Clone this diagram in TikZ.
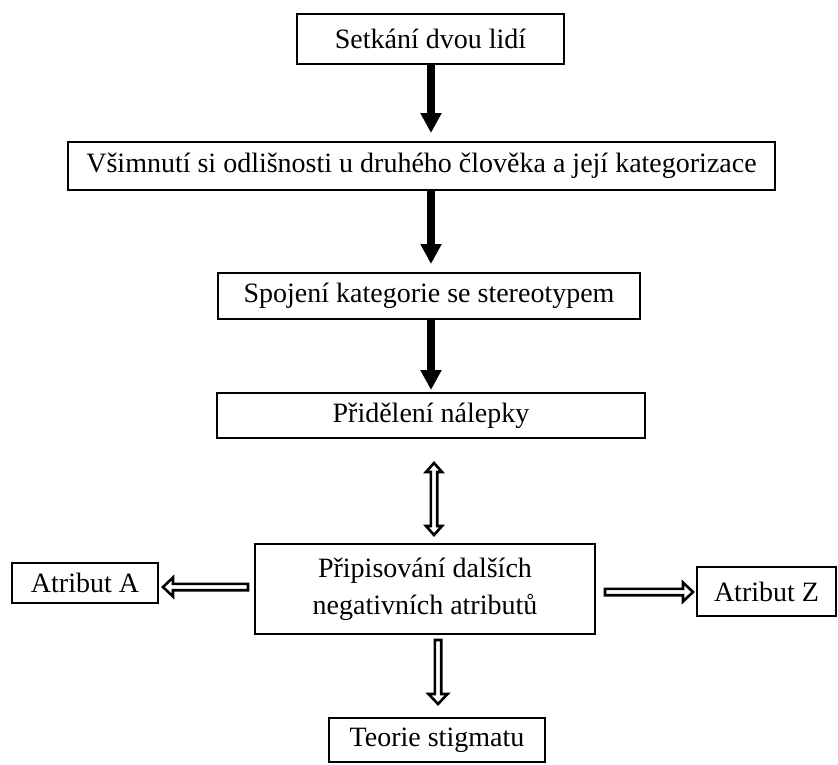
\documentclass[tikz,border=0pt]{standalone}
\usepackage{fontspec}
\setmainfont{Liberation Serif}
\usetikzlibrary{arrows.meta,calc}
\newcommand\outarrow[2]{%
  \draw[hollow] let \p1=($(#2)-(#1)$), \n1={veclen(\x1,\y1)}, \n2={atan2(\y1,\x1)} in
   [shift={(#1)},rotate=\n2] (0,-3.2) -- (\n1-10,-3.2) -- (\n1-10,-9.5) -- (\n1,0) -- (\n1-10,9.5) -- (\n1-10,3.2) -- (0,3.2) -- cycle;}
\newcommand\outarrowboth[2]{%
  \draw[hollow] let \p1=($(#2)-(#1)$), \n1={veclen(\x1,\y1)}, \n2={atan2(\y1,\x1)} in
   [shift={(#1)},rotate=\n2] (0,0) -- (9,-8) -- (9,-3.2) -- (\n1-9,-3.2) -- (\n1-9,-8) -- (\n1,0) -- (\n1-9,8) -- (\n1-9,3.2) -- (9,3.2) -- (9,8) -- cycle;}
\begin{document}
\begin{tikzpicture}[x=1pt,y=-1pt,
  box/.style={draw,line width=1.2pt,font=\fontsize{28}{37}\selectfont,inner sep=0pt,align=center},
  solidarrow/.style={line width=8pt,-{Triangle[length=20pt,width=20pt]}},
  hollow/.style={line width=2.6pt,line join=miter,fill=white}
]
\useasboundingbox (0,0) rectangle (838,764);
\node[box,minimum width=267pt,minimum height=50pt] (b1) at (430.5,39) {Setkání dvou lidí};
\node[box,minimum width=707pt,minimum height=48pt] (b2) at (421.5,166) {Všimnutí si odlišnosti u druhého člověka a její kategorizace};
\node[box,minimum width=422pt,minimum height=46pt] (b3) at (429,296) {Spojení kategorie se stereotypem};
\node[box,minimum width=428pt,minimum height=45pt] (b4) at (431,415.5) {Přidělení nálepky};
\node[box,minimum width=340pt,minimum height=90pt] (b5) at (425,589) {Připisování dalších\\negativních atributů};
\node[box,minimum width=146pt,minimum height=40pt] (ba) at (85,583) {Atribut A};
\node[box,minimum width=139pt,minimum height=49pt] (bz) at (766.5,591.5) {Atribut Z};
\node[box,minimum width=216pt,minimum height=44pt] (b6) at (437,740) {Teorie stigmatu};
\coordinate (a1s) at (431,64);
\coordinate (a1e) at (431,133);
\draw[solidarrow] (a1s) -- (a1e);
\coordinate (a2s) at (431,190);
\coordinate (a2e) at (431,264);
\draw[solidarrow] (a2s) -- (a2e);
\coordinate (a3s) at (431,319);
\coordinate (a3e) at (431,390);
\draw[solidarrow] (a3s) -- (a3e);
\coordinate (d1s) at (434,463);
\coordinate (d1e) at (434,535);
\outarrowboth{d1s}{d1e}
\coordinate (d2s) at (248,587);
\coordinate (d2e) at (163,587);
\outarrow{d2s}{d2e}
\coordinate (d3s) at (605,592);
\coordinate (d3e) at (693,592);
\outarrow{d3s}{d3e}
\coordinate (d4s) at (438,640);
\coordinate (d4e) at (438,704);
\outarrow{d4s}{d4e}
\end{tikzpicture}
\end{document}
